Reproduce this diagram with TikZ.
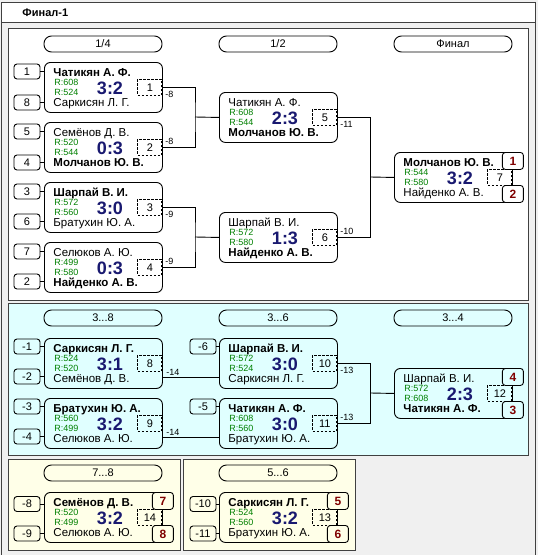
\documentclass[tikz,border=0pt]{standalone}
\usepackage{fontspec}
\setmainfont{Liberation Sans}

\definecolor{panelgray}{RGB}{240,240,240}
\definecolor{panelcyan}{RGB}{224,255,255}
\definecolor{panelyellow}{RGB}{255,255,232}
\definecolor{scoreblue}{RGB}{25,25,112}
\definecolor{ratinggreen}{RGB}{0,128,0}
\definecolor{placered}{RGB}{128,0,0}

\tikzset{
duelbox/.style={draw, rounded corners=6pt, minimum width=118pt, minimum height=50pt,
anchor=north west, inner sep=0pt},
pname/.style={anchor=base west, inner sep=0pt, font={\fontsize{11.5}{11.5}\selectfont}},
rating/.style={anchor=base west, inner sep=0pt, text=ratinggreen,
font={\fontsize{9}{9}\selectfont}},
score/.style={anchor=base, inner sep=0pt, text=scoreblue,
font={\fontsize{18}{18}\selectfont\bfseries}},
numbox/.style={draw, dash pattern=on 2.5pt off 1.5pt, minimum width=24pt,
minimum height=16pt, inner sep=0pt, font={\fontsize{11}{11}\selectfont}},
seedbox/.style={draw, rounded corners=3pt, minimum width=26pt, minimum height=15pt,
inner sep=0pt, font={\fontsize{11}{11}\selectfont}},
placebox/.style={draw, rounded corners=3pt, minimum width=21pt, minimum height=17pt,
inner sep=0pt, text=placered, font={\fontsize{12}{12}\selectfont\bfseries}},
roundhead/.style={draw, rounded corners=7.5pt, minimum width=118pt, minimum height=16pt,
inner sep=0pt, font={\fontsize{11}{11}\selectfont}},
lbl/.style={inner sep=0pt, font={\fontsize{9}{9}\selectfont}},
panel/.style={draw=black!75, line width=1pt}
}

% one match: name, top-left corner, upper player, rating, rating, score, lower player, number
\newcommand{\duel}[8]{%
\node [duelbox] (#1) at (#2) {};
\node [pname] (#1-a) at ([xshift=9pt,yshift=-14pt]#1.north west) {#3};
\node [rating] (#1-ra) at ([xshift=10pt,yshift=-23pt]#1.north west) {#4};
\node [rating] (#1-rb) at ([xshift=10pt,yshift=-33pt]#1.north west) {#5};
\node [pname] (#1-b) at ([xshift=9pt,yshift=-44pt]#1.north west) {#7};
\node [score] (#1-s) at ([xshift=66pt,yshift=-32pt]#1.north west) {#6};
\node [numbox] (#1-n) at ([xshift=-13pt]#1.east) {#8};
}

\begin{document}
\begin{tikzpicture}[x=1pt, y=-1pt, line width=0.9pt]

\useasboundingbox (0,0) rectangle (538,555);

% window
\fill [panelgray] (0,0) rectangle (538,555);
\draw [fill=white, draw=black!75] (1.5,2) rectangle (535.5,22);
\draw [draw=black!75] (1.5,22) -- (1.5,555);
\draw [draw=black!75] (535.5,22) -- (535.5,555);
\node [anchor=base west, inner sep=0pt, font={\fontsize{11}{11}\selectfont\bfseries}] (title)
 at (22,16.5) {Финал-1};

% panels
\draw [panel, fill=white] (8,28) rectangle (528,300);
\draw [panel, fill=panelcyan] (8,303) rectangle (528,455);
\draw [panel, fill=panelyellow] (8,459) rectangle (180,550);
\draw [panel, fill=panelyellow] (183,459) rectangle (355,550);

% headers
\node [roundhead] (h1) at (103,44) {1/4};
\node [roundhead] (h2) at (278,44) {1/2};
\node [roundhead] (h3) at (453,44) {Финал};
\node [roundhead] (h4) at (103,318) {3...8};
\node [roundhead] (h5) at (278,318) {3...6};
\node [roundhead] (h6) at (453,318) {3...4};
\node [roundhead] (h7) at (103,473) {7...8};
\node [roundhead] (h8) at (278,473) {5...6};

% first panel
\duel{m1}{44,62}{\bfseries Чатикян А. Ф.}{R:608}{R:524}{3:2}{Саркисян Л. Г.}{1}
\duel{m2}{44,122}{Семёнов Д. В.}{R:520}{R:544}{0:3}{\bfseries Молчанов Ю. В.}{2}
\duel{m3}{44,182}{\bfseries Шарпай В. И.}{R:572}{R:560}{3:0}{Братухин Ю. А.}{3}
\duel{m4}{44,242}{Селюков А. Ю.}{R:499}{R:580}{0:3}{\bfseries Найденко А. В.}{4}
\duel{m5}{219,92}{Чатикян А. Ф.}{R:608}{R:544}{2:3}{\bfseries Молчанов Ю. В.}{5}
\duel{m6}{219,212}{Шарпай В. И.}{R:572}{R:580}{1:3}{\bfseries Найденко А. В.}{6}
\duel{m7}{394,152}{\bfseries Молчанов Ю. В.}{R:544}{R:580}{3:2}{Найденко А. В.}{7}

\node [seedbox] (s1) at (27,71.5) {1};
\node [seedbox] (s8) at (27,102.5) {8};
\node [seedbox] (s5) at (27,131.5) {5};
\node [seedbox] (s4) at (27,162.5) {4};
\node [seedbox] (s3) at (27,191.5) {3};
\node [seedbox] (s6) at (27,221.5) {6};
\node [seedbox] (s7) at (27,251.5) {7};
\node [seedbox] (s2) at (27,281.5) {2};
\foreach \s/\m in {s1/m1, s8/m1, s5/m2, s4/m2, s3/m3, s6/m3, s7/m4, s2/m4}
  \draw (\s.east) -- (\s.east -| \m.west);

\node [placebox, fill=white, anchor=north] (p1) at (m7.north east) {1};
\node [placebox, fill=white, anchor=south] (p2) at (m7.south east) {2};

\coordinate (j1) at (195,117);
\coordinate (j2) at (195,237);
\coordinate (j3) at (370.5,177);
\draw (m1.east) -| (j1) |- (m2.east);
\draw (j1) -- (m5.west);
\draw (m3.east) -| (j2) |- (m4.east);
\draw (j2) -- (m6.west);
\draw (m5.east) -| (j3) |- (m6.east);
\draw (j3) -- (m7.west);

\node [lbl, anchor=north west] (l1) at ([xshift=2pt,yshift=-3pt]m1.east) {-8};
\node [lbl, anchor=south west] (l2) at ([xshift=2pt,yshift=2pt]m2.east) {-8};
\node [lbl, anchor=north west] (l3) at ([xshift=2pt,yshift=-3pt]m3.east) {-9};
\node [lbl, anchor=south west] (l4) at ([xshift=2pt,yshift=2pt]m4.east) {-9};
\node [lbl, anchor=north west] (l5) at ([xshift=2pt,yshift=-3pt]m5.east) {-11};
\node [lbl, anchor=south west] (l6) at ([xshift=2pt,yshift=2pt]m6.east) {-10};

% second panel
\duel{m8}{44,338}{\bfseries Саркисян Л. Г.}{R:524}{R:520}{3:1}{Семёнов Д. В.}{8}
\duel{m9}{44,398}{\bfseries Братухин Ю. А.}{R:560}{R:499}{3:2}{Селюков А. Ю.}{9}
\duel{m10}{219,338}{\bfseries Шарпай В. И.}{R:572}{R:524}{3:0}{Саркисян Л. Г.}{10}
\duel{m11}{219,398}{\bfseries Чатикян А. Ф.}{R:608}{R:560}{3:0}{Братухин Ю. А.}{11}
\duel{m12}{394,368}{Шарпай В. И.}{R:572}{R:608}{2:3}{\bfseries Чатикян А. Ф.}{12}

\node [seedbox] (s-1) at (27,346.5) {-1};
\node [seedbox] (s-2) at (27,376.5) {-2};
\node [seedbox] (s-3) at (27,406.5) {-3};
\node [seedbox] (s-4) at (27,436.5) {-4};
\node [seedbox] (s-6) at (203,346.5) {-6};
\node [seedbox] (s-5) at (203,406.5) {-5};
\foreach \s/\m in {s-1/m8, s-2/m8, s-3/m9, s-4/m9, s-6/m10, s-5/m11}
  \draw (\s.east) -- (\s.east -| \m.west);

\node [placebox, fill=panelcyan, anchor=north] (p4) at (m12.north east) {4};
\node [placebox, fill=panelcyan, anchor=south] (p3) at (m12.south east) {3};

\coordinate (c10) at ([yshift=-14pt]m10.west);
\coordinate (c11) at ([yshift=-14pt]m11.west);
\coordinate (j4) at (370.5,393);
\draw (m8.east |- c10) -- (c10);
\draw (m9.east |- c11) -- (c11);
\draw (m10.east) -| (j4) |- (m11.east);
\draw (j4) -- (m12.west);

\node [lbl, anchor=south west] (l8) at ([xshift=3pt,yshift=2pt]m8.east |- c10) {-14};
\node [lbl, anchor=south west] (l9) at ([xshift=3pt,yshift=2pt]m9.east |- c11) {-14};
\node [lbl, anchor=north west] (l10) at ([xshift=2pt,yshift=-3pt]m10.east) {-13};
\node [lbl, anchor=south west] (l11) at ([xshift=2pt,yshift=2pt]m11.east) {-13};

% third and fourth panels
\duel{m14}{44,492}{\bfseries Семёнов Д. В.}{R:520}{R:499}{3:2}{Селюков А. Ю.}{14}
\duel{m13}{219,492}{\bfseries Саркисян Л. Г.}{R:524}{R:560}{3:2}{Братухин Ю. А.}{13}

\node [seedbox] (s-8) at (27,504) {-8};
\node [seedbox] (s-9) at (27,533.5) {-9};
\node [seedbox] (s-10) at (203,504) {-10};
\node [seedbox] (s-11) at (203,533.5) {-11};
\foreach \s/\m in {s-8/m14, s-9/m14, s-10/m13, s-11/m13}
  \draw (\s.east) -- (\s.east -| \m.west);

\node [placebox, fill=panelyellow, anchor=north] (p7) at (m14.north east) {7};
\node [placebox, fill=panelyellow, anchor=south] (p8) at (m14.south east) {8};
\node [placebox, fill=panelyellow, anchor=north] (p5) at (m13.north east) {5};
\node [placebox, fill=panelyellow, anchor=south] (p6) at (m13.south east) {6};

\end{tikzpicture}
\end{document}
